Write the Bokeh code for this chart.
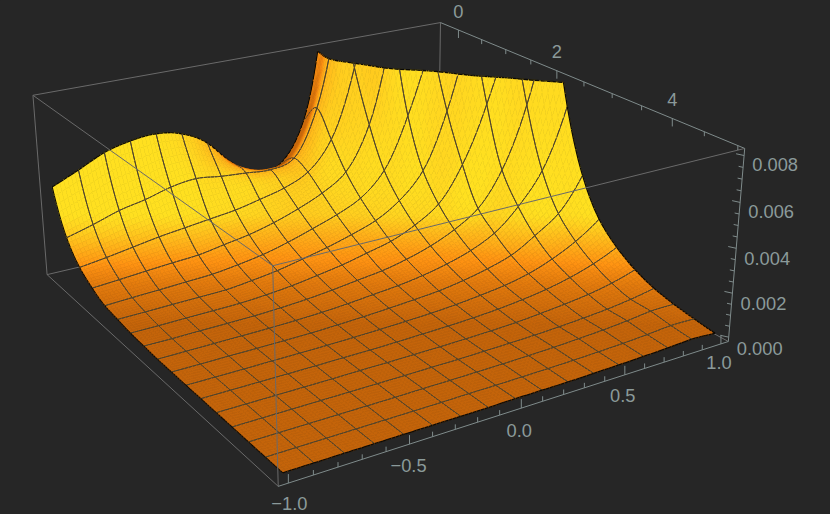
import numpy as np
from bokeh.plotting import figure
from bokeh.models import ColumnDataSource, Range1d
from bokeh.core.properties import value
from bokeh.embed import file_html
from bokeh.resources import INLINE

# ---- data -----------------------------------------------------------------
x_nodes = [-1, -0.875, -0.75, -0.625, -0.5, -0.375, -0.25, -0.125, 0, 0.125, 0.25, 0.375, 0.5, 0.625, 0.75, 0.875, 1]
y_nodes = [-0.3, 0.031, 0.363, 0.694, 1.025, 1.356, 1.688, 2.019, 2.35, 2.681, 3.013, 3.344, 3.675, 4.006, 4.338, 4.669, 5]
# height, in units of 0.001, one row per y node
z_rows = [
 [4.09,4.63,5.2,5.5,5.6,5.35,4.65,3.4,2.6,2.9,4.8,11,25,40,50,60,70],
 [2.12,2.46,2.85,3.1,3.43,3.58,3.43,3.33,3.23,3.55,5.8,11,20,30,40,50,60],
 [1.18,1.35,1.55,1.75,1.9,2.05,2.2,2.45,2.74,3.27,4.63,7.9,14,22,30,38,50],
 [.69,.78,.88,.97,1.05,1.25,1.45,1.75,2.15,2.65,3.43,5.5,10,15,22,30,40],
 [.37,.43,.48,.54,.6,.75,.95,1.25,1.62,2.02,2.56,3.66,6.07,9.5,14,20,28],
 [.25,.27,.3,.32,.35,.48,.65,.9,1.17,1.5,1.9,2.6,3.8,6.43,10.5,15,24],
 [.15,.16,.18,.2,.22,.3,.42,.6,.8,1.07,1.35,1.85,2.6,4.25,6.9,10.8,19.7],
 [.1,.1,.12,.13,.15,.2,.28,.4,.55,.7,.95,1.3,1.8,2.55,4.14,7.0,11.8],
 [.06,.07,.08,.09,.1,.13,.18,.26,.37,.48,.65,.9,1.25,1.8,2.8,4.26,7.07],
 [.05,.05,.06,.06,.07,.08,.12,.17,.24,.32,.42,.6,.85,1.2,1.85,2.63,4.19],
 [.04,.04,.04,.05,.05,.06,.08,.11,.15,.2,.28,.4,.55,.8,1.2,1.75,2.53],
 [.04,.04,.04,.04,.04,.05,.05,.07,.1,.13,.18,.26,.38,.55,.8,1.15,1.64],
 [.03,.03,.03,.03,.03,.04,.04,.05,.06,.08,.11,.16,.25,.36,.5,.72,1.05],
 [.03,.03,.03,.03,.03,.03,.03,.04,.04,.06,.08,.11,.16,.23,.32,.46,.66],
 [.02,.02,.02,.02,.02,.02,.03,.03,.04,.05,.07,.1,.15,.21,.3,.42,.42],
 [.02,.02,.02,.02,.02,.02,.02,.03,.03,.04,.05,.07,.1,.14,.2,.28,.26],
 [.02,.02,.02,.02,.02,.02,.02,.02,.03,.03,.03,.05,.07,.1,.14,.19,.13],
]
z_clip = 8.1
x_box = (-1.04, 1.04)
y_box = (-0.4, 5.1)
z_box = (-0.2, 8.3)

x_tick_values = [-1.0,-0.9,-0.8,-0.7,-0.6,-0.5,-0.4,-0.3,-0.2,-0.1,0.0,0.1,0.2,0.3,0.4,0.5,0.6,0.7,0.8,0.9,1.0]
x_tick_labels = {-1.0:"\u22121.0", -0.5:"\u22120.5", 0.0:"0.0", 0.5:"0.5", 1.0:"1.0"}
y_tick_values = [0,0.5,1,1.5,2,2.5,3,3.5,4,4.5,5]
y_tick_labels = {0:"0", 2:"2", 4:"4"}
z_tick_values = [0,0.5,1,1.5,2,2.5,3,3.5,4,4.5,5,5.5,6,6.5,7,7.5,8]
z_tick_labels = {0:"0.000", 2:"0.002", 4:"0.004", 6:"0.006", 8:"0.008"}
x_label_gap = {-1.0:(1,20), -0.5:(-1,21), 0.0:(-2,22), 0.5:(-2,21), 1.0:(-2,19)}
z_label_gap = {0:11, 2:10, 4:10, 6:9, 8:9}

BG = "#262626"
BOX = "#6a6a6a"
AXIS = "#7f8b8b"
TEXT = "#8b9a9a"
MESH = "#4f432c"
EDGE = "#0c0a06"

# ---- camera: fitted from where seven box corners fall on the page ----------
x0, x1 = x_box; y0, y1 = y_box; z0, z1 = z_box
corners = [((x0,y0,z1),(32,95)), ((x1,y0,z1),(440,22)), ((x1,y1,z1),(744,148)), ((x0,y1,z1),(273,265)),
           ((x0,y0,z0),(47,274)), ((x1,y1,z0),(728,341)), ((x0,y1,z0),(277,486))]
A = []
for (X,Y,Z),(u,v) in corners:
    u/=500; v/=500
    A.append([X,Y,Z,1,0,0,0,0,-u*X,-u*Y,-u*Z,-u])
    A.append([0,0,0,0,X,Y,Z,1,-v*X,-v*Y,-v*Z,-v])
P = np.linalg.svd(np.array(A,float))[2][-1].reshape(3,4)
def proj(X,Y,Z):
    X,Y,Z = np.asarray(X,float),np.asarray(Y,float),np.asarray(Z,float)
    w = P[2,0]*X+P[2,1]*Y+P[2,2]*Z+P[2,3]
    return 500*(P[0,0]*X+P[0,1]*Y+P[0,2]*Z+P[0,3])/w, 500*(P[1,0]*X+P[1,1]*Y+P[1,2]*Z+P[1,3])/w

# ---- smooth rendering mesh through the table --------------------------------
SUB = 7
def refine(a, axis):
    a = np.moveaxis(a, axis, 0)
    n = a.shape[0]
    e = np.concatenate([[2*a[0]-a[1]], a, [2*a[-1]-a[-2]]])
    out = []
    for k in range(n-1):
        p0,p1,p2,p3 = e[k],e[k+1],e[k+2],e[k+3]
        for s in range(SUB):
            t = s/SUB
            out.append(.5*(2*p1+(p2-p0)*t+(2*p0-5*p1+4*p2-p3)*t*t+(-p0+3*p1-3*p2+p3)*t**3))
    out.append(a[-1])
    return np.moveaxis(np.array(out),0,axis)
L = np.log(np.array(z_rows)+0.01)
Lf = refine(refine(L,0),1)
Zf = np.exp(Lf)-0.01          # [j,i]
Xn = np.array(x_nodes); Yn = np.array(y_nodes)
Xf = np.concatenate([np.linspace(Xn[k],Xn[k+1],SUB,endpoint=False) for k in range(16)]+[[Xn[-1]]])
Yf = np.concatenate([np.linspace(Yn[k],Yn[k+1],SUB,endpoint=False) for k in range(16)]+[[Yn[-1]]])
NF = len(Xf)-1
XX,YY = np.meshgrid(Xf,Yf)
U,V = proj(XX,YY,Zf)

# shading
dzx = np.gradient(Zf/8.3*0.45, Xf/2.0, axis=1)
dzy = np.gradient(Zf/8.3*0.45, Yf/5.3, axis=0)
nrm = np.sqrt(dzx**2+dzy**2+1)
LV = np.array([-.35,.85,.4]); LV = LV/np.linalg.norm(LV)
B = (-dzx*LV[0]-dzy*LV[1]+LV[2])/nrm
stops_s = [-1,-.5,0,.3,.5,.75,1,1.1]
stops_c = np.array([[46,28,8],[107,61,5],[196,100,10],[226,122,13],[255,147,18],[255,180,26],[255,214,32],[255,224,32]],float)
def colour(b,v):
    sv = np.clip((325-v)/110,0,1.0)
    f = np.interp(b,[.1,.25,.4,.75,.95],[0,.4,.7,.87,1.1])
    s = sv*f if b>.1 else (b-.1)*2.5
    c = [np.interp(s,stops_s,stops_c[:,k]) for k in range(3)]
    return "#%02x%02x%02x"%tuple(int(round(q)) for q in c)

xs,ys,fc,lc,lw = [],[],[],[],[]
def add_seg(ia,ja,ib,jb,col,wd):
    za,zb = Zf[ja,ia],Zf[jb,ib]
    if za>z_clip and zb>z_clip: return
    ua,va,ub,vb = U[ja,ia],V[ja,ia],U[jb,ib],V[jb,ib]
    if za>z_clip or zb>z_clip:
        t=(z_clip-za)/(zb-za)
        xa,ya,xb,yb=Xf[ia],Yf[ja],Xf[ib],Yf[jb]
        uc,vc=proj(xa+t*(xb-xa),ya+t*(yb-ya),z_clip)
        if za>z_clip: ua,va=uc,vc
        else: ub,vb=uc,vc
    xs.append([float(ua),float(ub)]); ys.append([float(va),float(vb)])
    fc.append(col); lc.append(col); lw.append(wd)

for i in range(NF-1,-1,-1):
    for j in range(NF):
        ids=[(i,j),(i+1,j),(i+1,j+1),(i,j+1)]
        pts=[(Xf[a],Yf[b],Zf[b,a]) for a,b in ids]
        poly=[]; clipseg=[]
        for k in range(4):
            p_,q=pts[k],pts[(k+1)%4]
            pin,qin=p_[2]<=z_clip,q[2]<=z_clip
            if pin: poly.append(p_)
            if pin!=qin:
                t=(z_clip-p_[2])/(q[2]-p_[2])
                c=(p_[0]+t*(q[0]-p_[0]),p_[1]+t*(q[1]-p_[1]),z_clip)
                poly.append(c); clipseg.append(c)
        if len(poly)>=3:
            a=np.array(poly)
            pu,pv=proj(a[:,0],a[:,1],a[:,2])
            bb=float(np.mean([B[b,a_] for a_,b in ids]))
            col=colour(bb,float(np.mean(pv)))
            xs.append([float(q) for q in pu]); ys.append([float(q) for q in pv])
            fc.append(col); lc.append(col); lw.append(0.6)
        if (i+1)%SUB==0 and i+1<NF: add_seg(i+1,j,i+1,j+1,MESH,0.95)
        if j%SUB==0 and j>0: add_seg(i,j,i+1,j,MESH,0.95)
        if i+1==NF: add_seg(i+1,j,i+1,j+1,EDGE,1.3)
        if j==0: add_seg(i,j,i+1,j,EDGE,1.3)
        if i==0: add_seg(i,j,i,j+1,EDGE,1.1)
        if j+1==NF: add_seg(i,j+1,i+1,j+1,EDGE,1.3)
        if len(clipseg)==2:
            cu,cv=proj([clipseg[0][0],clipseg[1][0]],[clipseg[0][1],clipseg[1][1]],[z_clip,z_clip])
            xs.append([float(q) for q in cu]); ys.append([float(q) for q in cv])
            fc.append(EDGE); lc.append(EDGE); lw.append(1.4)

# ---- figure ----------------------------------------------------------------
p = figure(width=830,height=514,x_range=Range1d(0,830),y_range=Range1d(514,0),
           output_backend="svg",toolbar_location=None,x_axis_type=None,y_axis_type=None,
           min_border=0,background_fill_color=BG,border_fill_color=BG,outline_line_color=None)
p.grid.visible=False

def box_lines(edges,col,wd):
    ex,ey=[],[]
    for a,b in edges:
        ua,va=proj(*a); ub,vb=proj(*b)
        ex.append([float(ua),float(ub)]); ey.append([float(va),float(vb)])
    p.multi_line(ex,ey,line_color=col,line_width=wd)

box_lines([((x0,y0,z1),(x1,y0,z1)),((x1,y0,z1),(x1,y0,z0)),((x0,y0,z1),(x0,y0,z0)),
           ((x0,y0,z0),(x1,y0,z0)),((x1,y0,z0),(x1,y1,z0))],BOX,1)
box_lines([((x1,y0,z1),(x1,y1,z1))],AXIS,1)
p.patches(xs="xs",ys="ys",fill_color="fc",line_color="lc",line_width="lw",
          source=ColumnDataSource(dict(xs=xs,ys=ys,fc=fc,lc=lc,lw=lw)))
box_lines([((x0,y1,z1),(x0,y1,z0)),((x0,y0,z1),(x0,y1,z1)),((x0,y1,z1),(x1,y1,z1)),((x0,y0,z0),(x0,y1,z0))],BOX,1)
box_lines([((x0,y1,z0),(x1,y1,z0)),((x1,y1,z1),(x1,y1,z0))],AXIS,1)

tx,ty,tt=[],[],[]
sx,sy=[],[]
for t in x_tick_values:
    u,v=proj(t,y1,z0); u=float(u); v=float(v)
    major=t in x_tick_labels
    sx.append([u,u]); sy.append([v,v-(9 if major else 5)])
    if major:
        gx,gy=x_label_gap[t]
        tx.append(u+gx); ty.append(v+gy); tt.append(x_tick_labels[t])
for t in y_tick_values:
    u,v=proj(x1,t,z1); u=float(u); v=float(v)
    major=t in y_tick_labels
    sx.append([u,u]); sy.append([v,v+(8 if major else 4.5)])
    if major:
        tx.append(u); ty.append(v-19); tt.append(y_tick_labels[t])
for t in z_tick_values:
    u,v=proj(x1,y1,t); u=float(u); v=float(v)
    major=t in z_tick_labels
    d=8 if major else 4.5
    sx.append([u,u-d]); sy.append([v,v-d*.22])
    if major:
        tx.append(u+31); ty.append(v+z_label_gap[t]); tt.append(z_tick_labels[t])
p.multi_line(sx,sy,line_color=AXIS,line_width=1)
p.text(tx,ty,text=tt,text_font=value("Liberation Sans"),text_font_size="18.3px",text_color=TEXT,
       text_align="center",text_baseline="middle")

html = file_html(p,INLINE)
html = html.replace("<body>",'<body style="margin:0;background:%s;overflow:hidden">'%BG)
open("out.html","w").write(html)
